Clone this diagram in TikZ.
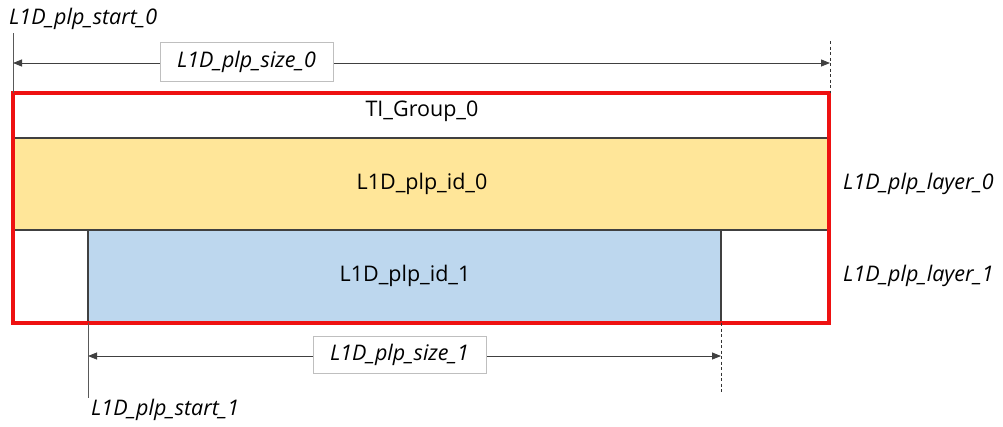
\documentclass[tikz,border=0pt]{standalone}
\usepackage{fontspec}
\setmainfont{Open Sans}
\usetikzlibrary{arrows.meta}
\definecolor{yel}{HTML}{FFE699}
\definecolor{blu}{HTML}{BDD7EE}
\definecolor{edge}{HTML}{404040}
\definecolor{redl}{HTML}{EE1111}
\tikzset{
  lbl/.style={font=\fontsize{21.5}{25}\selectfont\itshape, inner sep=0pt},
  boxtxt/.style={font=\fontsize{21.5}{25}\selectfont, inner sep=0pt},
  dimbox/.style={draw=black!25, fill=white, line width=0.8pt},
  dimarrow/.style={draw=black!75, line width=0.8pt, {Triangle[length=9pt,width=7pt]}-{Triangle[length=9pt,width=7pt]}},
  guide/.style={draw=black!65, line width=0.8pt},
  dguide/.style={draw=black!80, line width=0.8pt, dash pattern=on 3pt off 2.5pt},
}
\begin{document}
\begin{tikzpicture}[x=1pt,y=-1pt]
\useasboundingbox (0,0) rectangle (1003,426);
% rows
\fill[white] (13,93) rectangle (829,138);
\path[fill=yel, draw=edge, line width=1.2pt] (13,138) rectangle (829,230);
\path[fill=blu, draw=edge, line width=1.2pt] (88,230) rectangle (721,323);
\draw[edge, line width=1.2pt] (13,230) -- (829,230);
\draw[redl, line width=3.5pt] (13,93) rectangle (829,323);
% texts in boxes
\node[boxtxt] (tig) at (422,111) {TI\_Group\_0};
\node[boxtxt] (id0) at (422,184) {L1D\_plp\_id\_0};
\node[boxtxt] (id1) at (405,276) {L1D\_plp\_id\_1};
% layer labels
\node[lbl, anchor=west] (lay0) at (843,184) {L1D\_plp\_layer\_0};
\node[lbl, anchor=west] (lay1) at (843,276) {L1D\_plp\_layer\_1};
% top dimension
\coordinate (s0top) at (13,33);
\coordinate (s0bot) at (13,93);
\coordinate (e0top) at (830,41);
\coordinate (e0bot) at (830,93);
\draw[guide] (s0top) -- (s0bot);
\draw[dguide] (e0top) -- (e0bot);
\coordinate (a0l) at (13,63);
\coordinate (a0r) at (830,63);
\draw[dimarrow] (a0l) -- (a0r);
\node[dimbox, minimum width=173pt, minimum height=39pt] (sz0) at (246.5,62) {};
\node[lbl] at (sz0) {L1D\_plp\_size\_0};
\node[lbl, anchor=west] (st0) at (9,19) {L1D\_plp\_start\_0};
% bottom dimension
\coordinate (s1top) at (88,323);
\coordinate (s1bot) at (88,398);
\coordinate (e1top) at (721,323);
\coordinate (e1bot) at (721,393);
\draw[guide] (s1top) -- (s1bot);
\draw[dguide] (e1top) -- (e1bot);
\coordinate (a1l) at (88,356);
\coordinate (a1r) at (721,356);
\draw[dimarrow] (a1l) -- (a1r);
\node[dimbox, minimum width=173pt, minimum height=37pt] (sz1) at (399.5,355) {};
\node[lbl] at (sz1) {L1D\_plp\_size\_1};
\node[lbl, anchor=west] (st1) at (91,410) {L1D\_plp\_start\_1};
\end{tikzpicture}
\end{document}
